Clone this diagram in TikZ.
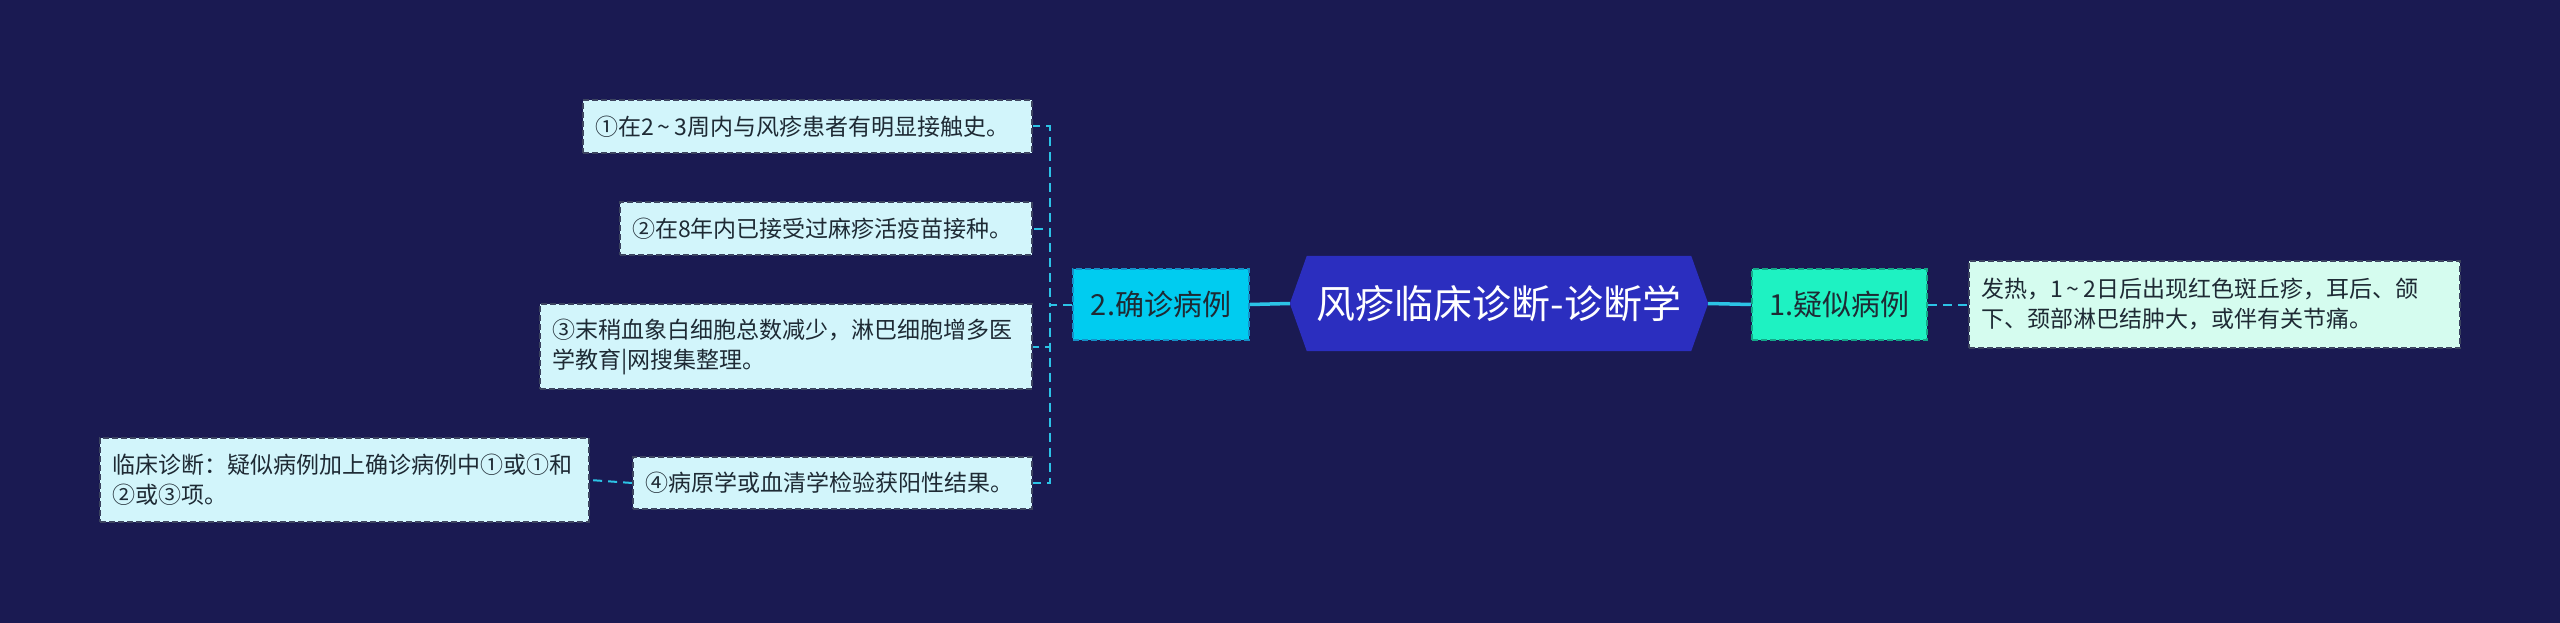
\documentclass[tikz,border=0pt]{standalone}
\usepackage{fontspec}
\setmainfont{Noto Sans CJK SC}
\usetikzlibrary{calc}
\definecolor{bgc}{HTML}{1A1A52}
\definecolor{hexc}{HTML}{2B2EBF}
\definecolor{subA}{HTML}{00CCF0}
\definecolor{subAb}{HTML}{1590C8}
\definecolor{subB}{HTML}{1EF2C2}
\definecolor{subBb}{HTML}{14A888}
\definecolor{leafc}{HTML}{D2F5FB}
\definecolor{leafR}{HTML}{D5FCEF}
\definecolor{leafb}{HTML}{3C4460}
\definecolor{txt}{HTML}{1E2A34}
\definecolor{linec}{HTML}{2CC3E6}
\newcommand\mytld{\makebox[0.9em]{\char"007E}}
\pgfdeclarelayer{bglayer}
\pgfdeclarelayer{shapelayer}
\pgfsetlayers{bglayer,shapelayer,main}
\tikzset{
  boxbase/.style={draw, line width=1.8pt, dash pattern=on 6pt off 3pt, inner ysep=0pt, text=txt, anchor=center},
  leafbox/.style={boxbase, fill=leafc, draw=leafb, inner xsep=12pt, align=left,
     font=\fontsize{23}{30}\selectfont},
  leafboxR/.style={leafbox, fill=leafR},
  subbox/.style={boxbase, inner xsep=0pt, font=\fontsize{29}{34}\selectfont, minimum width=#1},
  rootnode/.style={inner sep=0pt, text=white, minimum width=418pt, minimum height=95pt,
     font=\fontsize{39}{46}\selectfont},
  rootline/.style={linec, line width=3.5pt},
  dline/.style={linec, line width=2pt, dash pattern=on 9pt off 6pt},
}
\begin{document}
\begin{tikzpicture}[x=1pt,y=-1pt]
\begin{pgfonlayer}{bglayer}
\fill[bgc] (0,0) rectangle (2560,623);
\end{pgfonlayer}
\useasboundingbox (0,0) rectangle (2560,623);

% root
\node[rootnode] (root) at (1499,303.5) {风疹临床诊断-诊断学};
\begin{pgfonlayer}{shapelayer}
\fill[hexc] (root.west) -- ([xshift=17pt]root.north west) -- ([xshift=-17pt]root.north east)
  -- (root.east) -- ([xshift=-17pt]root.south east) -- ([xshift=17pt]root.south west) -- cycle;
\end{pgfonlayer}

% right branch
\node[subbox=175pt, fill=subB, draw=subBb, minimum height=71pt] (s1) at (1839.5,304.5) {1.疑似病例};
\node[leafboxR, minimum width=491pt, text width=467pt, minimum height=87pt] (d1) at (2214.5,304.5)
  {发热，1\mytld2日后出现红色斑丘疹，耳后、颌\\下、颈部淋巴结肿大，或伴有关节痛。};

% left branch
\node[subbox=176pt, fill=subA, draw=subAb, minimum height=71pt] (s2) at (1161,304.5) {2.确诊病例};
\node[leafbox, minimum width=449pt, text width=425pt, minimum height=53pt] (c1) at (807.5,126.5)
  {①在2\mytld3周内与风疹患者有明显接触史。};
\node[leafbox, minimum width=412pt, text width=388pt, minimum height=53pt] (c2) at (826,228.5)
  {②在8年内已接受过麻疹活疫苗接种。};
\node[leafbox, minimum width=492pt, text width=468pt, minimum height=85pt] (c3) at (786,346.5)
  {③末稍血象白细胞总数减少，淋巴细胞增多医\\学教育|网搜集整理。};
\node[leafbox, minimum width=399pt, text width=375pt, minimum height=52pt] (c4) at (832.5,483)
  {④病原学或血清学检验获阳性结果。};
\node[leafbox, minimum width=489pt, text width=465pt, minimum height=84pt] (n4) at (344.5,480)
  {临床诊断：疑似病例加上确诊病例中①或①和\\②或③项。};

% connectors
\begin{pgfonlayer}{shapelayer}
\draw[rootline] (root.east) -- (s1.west);
\draw[rootline] (root.west) -- (s2.east);
\draw[dline] (s1.east) -- (d1.west);
\draw[dline] (s2.west) -- ++(-22,0) |- (c1.east);
\draw[dline] (s2.west) -- ++(-22,0) |- (c2.east);
\draw[dline] (s2.west) -- ++(-22,0) |- (c3.east);
\draw[dline] (s2.west) -- ++(-22,0) |- (c4.east);
\draw[dline] (c4.west) -- (n4.east);
\end{pgfonlayer}
\end{tikzpicture}
\end{document}
